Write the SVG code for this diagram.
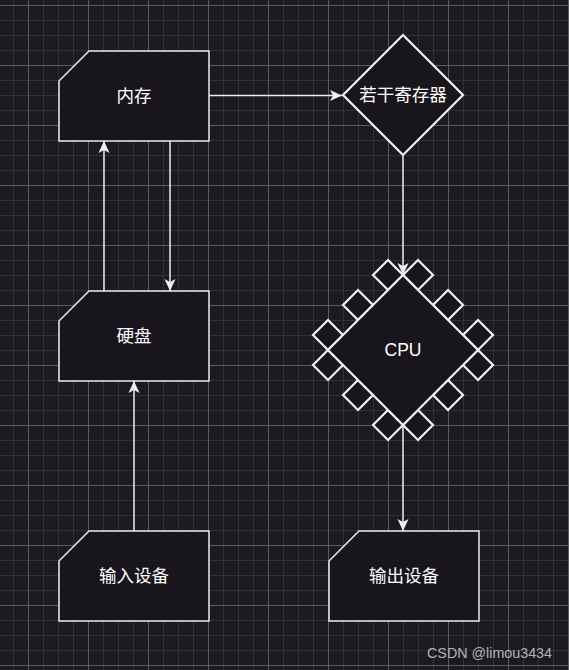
<svg xmlns="http://www.w3.org/2000/svg" width="569" height="670" viewBox="0 0 569 670">
  <defs>
    <pattern id="minor" patternUnits="userSpaceOnUse" x="13" y="5" width="15" height="15">
      <path d="M0.5,0 V15 M0,0.5 H15" stroke="#323037" stroke-width="1" fill="none"/>
    </pattern>
    <pattern id="major" patternUnits="userSpaceOnUse" x="28" y="5" width="60" height="60">
      <path d="M0.5,0 V60 M0,0.5 H60" stroke="#5c5a60" stroke-width="1" fill="none"/>
    </pattern>
    <marker id="arrow" markerUnits="userSpaceOnUse" markerWidth="14" markerHeight="14" viewBox="0 0 14 14" refX="13" refY="7" orient="auto">
      <path d="M1,1.5 L13,7 L1,12.5 L4,7 Z" fill="#f0f0f0" stroke="none"/>
    </marker>
    <style>
      .card { fill: #18151d; stroke: #ececec; stroke-width: 1.5; }
      .thick { fill: #18151d; stroke: #f2f2f2; stroke-width: 2.2; stroke-linejoin: miter; }
      .pin { fill: #18151d; stroke: #f2f2f2; stroke-width: 2.2; }
      .lbl { font-family: "Liberation Sans", "Noto Sans CJK SC", sans-serif; font-size: 17.5px; fill: #ffffff; text-anchor: middle; }
      .edge { stroke: #ececec; stroke-width: 1.5; fill: none; marker-end: url(#arrow); }
    </style>
  </defs>

  <rect x="0" y="0" width="569" height="670" fill="#1c1a21"/>
  <rect x="0" y="0" width="569" height="670" fill="url(#minor)"/>
  <rect x="0" y="0" width="569" height="670" fill="url(#major)"/>

  <g id="connectors">
    <path class="edge" d="M209,95.5 H342"/>
    <path class="edge" d="M403,155 V275"/>
    <path class="edge" d="M170,141 V291"/>
    <path class="edge" d="M104,291 V141"/>
    <path class="edge" d="M134,531 V381"/>
    <path class="edge" d="M403,425 V531"/>
  </g>

  <g id="neicun">
    <path class="card" d="M89,51 H209 V141 H59 V81 Z"/>
    <text class="lbl" x="134" y="102">内存</text>
  </g>

  <g id="yingpan">
    <path class="card" d="M89,291 H209 V381 H59 V321 Z"/>
    <text class="lbl" x="134" y="342">硬盘</text>
  </g>

  <g id="shuru">
    <path class="card" d="M89,531 H209 V621 H59 V561 Z"/>
    <text class="lbl" x="134" y="582">输入设备</text>
  </g>

  <g id="shuchu">
    <path class="card" d="M359,531 H479 V621 H329 V561 Z"/>
    <text class="lbl" x="404" y="582">输出设备</text>
  </g>

  <g id="jicunqi">
    <path class="thick" d="M403,35 L463,95 L403,155 L343,95 Z"/>
    <text class="lbl" x="403" y="101">若干寄存器</text>
  </g>

  <g id="cpu">
    <polygon class="pin" points="403,275 388,290 373,275 388,260"/>
    <polygon class="pin" points="373,305 358,320 343,305 358,290"/>
    <polygon class="pin" points="343,335 328,350 313,335 328,320"/>
    <polygon class="pin" points="403,275 418,290 433,275 418,260"/>
    <polygon class="pin" points="433,305 448,320 463,305 448,290"/>
    <polygon class="pin" points="463,335 478,350 493,335 478,320"/>
    <polygon class="pin" points="328,350 343,365 328,380 313,365"/>
    <polygon class="pin" points="358,380 373,395 358,410 343,395"/>
    <polygon class="pin" points="388,410 403,425 388,440 373,425"/>
    <polygon class="pin" points="478,350 463,365 478,380 493,365"/>
    <polygon class="pin" points="448,380 433,395 448,410 463,395"/>
    <polygon class="pin" points="418,410 403,425 418,440 433,425"/>
    <path class="thick" d="M403,275 L478,350 L403,425 L328,350 Z"/>
    <text class="lbl" x="403" y="356">CPU</text>
  </g>

  <text x="552" y="658" font-family="Liberation Sans, sans-serif" font-size="14.3" fill="#b4b4b4" text-anchor="end">CSDN @limou3434</text>
</svg>
